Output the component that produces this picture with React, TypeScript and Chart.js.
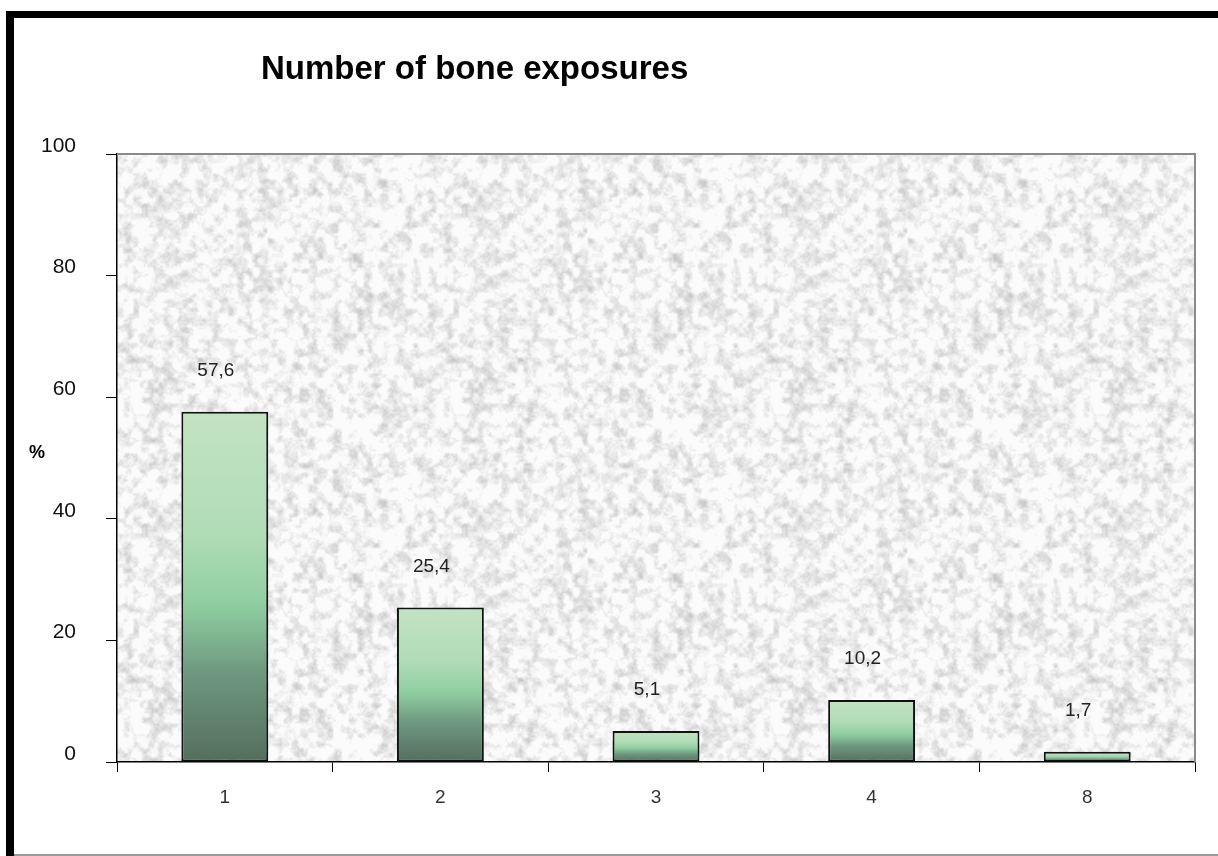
import React, { useEffect, useRef } from "react";
import { Chart, registerables } from "chart.js";

Chart.register(...registerables);

const categories = ["1", "2", "3", "4", "8"];
const percentValues = [57.6, 25.4, 5.1, 10.2, 1.7];
const valueLabels = ["57,6", "25,4", "5,1", "10,2", "1,7"];
const yTicks = [0, 20, 40, 60, 80, 100];
const chartTitle = "Number of bone exposures";
const yAxisLabel = "%";

const FONT = "'Liberation Sans', Arial, Helvetica, sans-serif";

function hash(x: number, y: number, s: number) {
  const v = Math.sin(x * 127.1 + y * 311.7 + s * 74.7) * 43758.5453;
  return v - Math.floor(v);
}

function valueNoise(x: number, y: number, cell: number, s: number, period: number) {
  const gx = x / cell;
  const gy = y / cell;
  const x0 = Math.floor(gx);
  const y0 = Math.floor(gy);
  const fx = gx - x0;
  const fy = gy - y0;
  const p = period / cell;
  const w = (a: number) => ((a % p) + p) % p;
  const a = hash(w(x0), w(y0), s);
  const b = hash(w(x0 + 1), w(y0), s);
  const c = hash(w(x0), w(y0 + 1), s);
  const d = hash(w(x0 + 1), w(y0 + 1), s);
  const sx = fx * fx * (3 - 2 * fx);
  const sy = fy * fy * (3 - 2 * fy);
  return (a * (1 - sx) + b * sx) * (1 - sy) + (c * (1 - sx) + d * sx) * sy;
}

function makeTexture(): HTMLCanvasElement {
  const size = 320;
  const cv = document.createElement("canvas");
  cv.width = size;
  cv.height = size;
  const ctx = cv.getContext("2d")!;
  const img = ctx.createImageData(size, size);
  for (let y = 0; y < size; y++) {
    for (let x = 0; x < size; x++) {
      const v =
        0.45 * valueNoise(x, y, 8, 1, size) +
        0.35 * valueNoise(x, y, 5, 2, size) +
        0.2 * valueNoise(x, y, 2, 3, size);
      let g = 190 + 105 * v;
      if (g > 251) g = 251;
      const i = (y * size + x) * 4;
      img.data[i] = g;
      img.data[i + 1] = g;
      img.data[i + 2] = g;
      img.data[i + 3] = 255;
    }
  }
  ctx.putImageData(img, 0, 0);
  return cv;
}

export default function App() {
  const canvasRef = useRef<HTMLCanvasElement | null>(null);

  useEffect(() => {
    if (!canvasRef.current) return;
    const texture = makeTexture();

    const decorPlugin = {
      id: "decor",
      beforeDraw(chart: any) {
        const { ctx, chartArea } = chart;
        ctx.save();
        ctx.fillStyle = "#ffffff";
        ctx.fillRect(0, 0, chart.width, chart.height);
        // frame
        ctx.fillStyle = "#000000";
        ctx.fillRect(6, 11, chart.width - 6, 7);
        ctx.fillRect(6, 11, 8, chart.height - 11);
        ctx.fillStyle = "#9a9a9a";
        ctx.fillRect(14, 854, chart.width - 14, 2);
        // title
        ctx.fillStyle = "#000000";
        ctx.font = `bold 33px ${FONT}`;
        ctx.textAlign = "left";
        ctx.textBaseline = "alphabetic";
        ctx.fillText(chartTitle, 261, 79);
        // y axis label
        ctx.font = `bold 18px ${FONT}`;
        ctx.textAlign = "center";
        ctx.textBaseline = "middle";
        ctx.fillText(yAxisLabel, 37, 453);
        // plot background texture
        const pat = ctx.createPattern(texture, "repeat");
        ctx.fillStyle = pat || "#ececec";
        ctx.fillRect(chartArea.left, chartArea.top, chartArea.right - chartArea.left, chartArea.bottom - chartArea.top);
        ctx.restore();
      },
      afterDatasetsDraw(chart: any) {
        const { ctx, chartArea } = chart;
        ctx.save();
        ctx.strokeStyle = "#8a8a8a";
        ctx.lineWidth = 2;
        ctx.beginPath();
        ctx.moveTo(chartArea.left, chartArea.top);
        ctx.lineTo(chartArea.right, chartArea.top);
        ctx.lineTo(chartArea.right, chartArea.bottom);
        ctx.stroke();
        const meta = chart.getDatasetMeta(0);
        ctx.fillStyle = "#222222";
        ctx.font = `19px ${FONT}`;
        ctx.textAlign = "center";
        ctx.textBaseline = "middle";
        meta.data.forEach((el: any, i: number) => {
          ctx.fillText(valueLabels[i], el.x - 9, el.y - 41);
        });
        ctx.restore();
      },
    };

    const chart = new Chart(canvasRef.current, {
      type: "bar",
      data: {
        labels: categories,
        datasets: [
          {
            data: percentValues,
            backgroundColor: (context: any) => {
              const c = context.chart;
              if (!c.chartArea || context.dataIndex === undefined) return "#8dcc9e";
              const y = c.scales.y;
              const v = percentValues[context.dataIndex];
              const top = y.getPixelForValue(v);
              const bottom = y.getPixelForValue(0);
              if (!isFinite(top) || !isFinite(bottom) || bottom - top < 1) return "#8dcc9e";
              const g = c.ctx.createLinearGradient(0, top, 0, bottom);
              g.addColorStop(0, "#c3e3c3");
              g.addColorStop(0.35, "#b0dcb6");
              g.addColorStop(0.55, "#8fcea0");
              g.addColorStop(0.75, "#6d977e");
              g.addColorStop(1, "#546e5e");
              return g;
            },
            borderColor: "#111111",
            borderWidth: 2,
            borderSkipped: false,
            barPercentage: 0.403,
            categoryPercentage: 1,
          },
        ],
      },
      options: {
        responsive: false,
        animation: false,
        maintainAspectRatio: false,
        layout: { padding: { top: 154, right: 23, left: 0, bottom: 0 } },
        plugins: {
          legend: { display: false },
          title: { display: false },
          tooltip: { enabled: false },
        },
        scales: {
          x: {
            offset: true,
            grid: {
              offset: true,
              drawOnChartArea: false,
              drawTicks: true,
              tickLength: 10,
              color: "#000000",
              lineWidth: 1,
            },
            border: { display: true, color: "#000000", width: 1.5 },
            ticks: {
              color: "#333333",
              font: { family: FONT, size: 19 },
              padding: 14,
              maxRotation: 0,
            },
            afterFit(scale: any) {
              scale.height = 94;
            },
          },
          y: {
            min: 0,
            max: 100,
            afterBuildTicks(scale: any) {
              scale.ticks = yTicks.map((v) => ({ value: v }));
            },
            grid: {
              drawOnChartArea: false,
              drawTicks: true,
              tickLength: 11,
              color: "#000000",
              lineWidth: 1,
            },
            border: { display: true, color: "#000000", width: 1.5 },
            ticks: {
              color: "#111111",
              font: { family: FONT, size: 21 },
              padding: 30,
              labelOffset: -8,
            },
            afterFit(scale: any) {
              scale.width = 117;
            },
          },
        },
      },
      plugins: [decorPlugin],
    } as any);

    return () => chart.destroy();
  }, []);

  return (
    <div style={{ position: "fixed", left: 0, top: 0, width: 1218, height: 856, background: "#ffffff" }}>
      <canvas ref={canvasRef} width={1218} height={856} style={{ width: 1218, height: 856, display: "block" }} />
    </div>
  );
}
